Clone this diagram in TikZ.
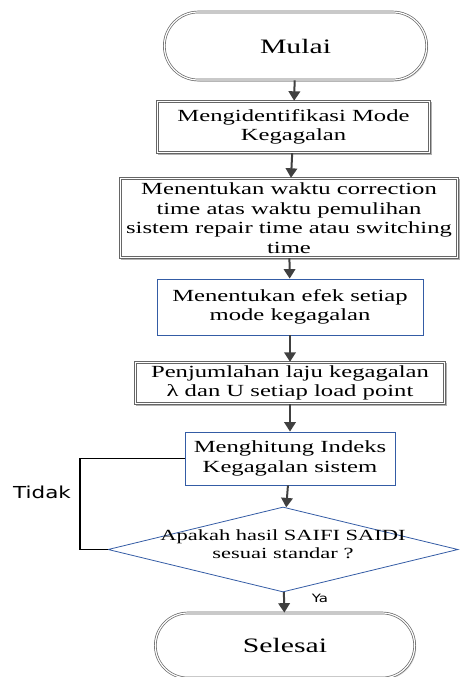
\documentclass[tikz,border=0pt]{standalone}
\usepackage{fontspec}
\setmainfont{Liberation Serif}[FakeStretch=1.45]
\newfontfamily\sansket{DejaVu Sans}[FakeStretch=1.3]
\usepackage{tikz}
\usetikzlibrary{arrows.meta,shapes,shadows,backgrounds}
\definecolor{biru}{RGB}{52,92,165}
\definecolor{abu}{RGB}{64,64,64}
\tikzstyle{terminal}=[rounded rectangle,draw=black!60,line width=0.7pt,double=white,double distance=1.2pt,fill=white,
    drop shadow={opacity=0.35,shadow xshift=1.5pt,shadow yshift=-1.5pt},font=\fontsize{20.5}{24}\selectfont]
\tikzstyle{proses}=[rectangle,fill=white,align=center,inner sep=2pt,font=\fontsize{17}{19.5}\selectfont]
\tikzstyle{bingkai}=[draw=black!60,line width=0.7pt]
\tikzstyle{bayang}=[fill=black!30]
\tikzstyle{prosesbiru}=[rectangle,draw=biru,line width=0.8pt,fill=white,align=center,inner sep=2pt,font=\fontsize{17}{19.5}\selectfont]
\tikzstyle{keputusan}=[diamond,draw=biru,line width=0.8pt,inner sep=0pt,font=\fontsize{15.5}{18}\selectfont]
\tikzstyle{panah}=[draw,abu,line width=2pt,-{Triangle[length=9.5pt,width=11.5pt]}]
\tikzstyle{garis}=[draw,black,line width=1.6pt]
\newcommand{\teksdatar}[1]{\makebox[0pt]{\smash{\begin{tabular}{@{}c@{}}#1\end{tabular}}}}

\begin{document}
\begin{tikzpicture}[x=1pt,y=-1pt]
    \useasboundingbox (0,0) rectangle (459,677);

    \node[terminal,minimum width=269,minimum height=68] (mulai) at (295.5,46) {Mulai};
    \node[proses,minimum width=273,minimum height=52] (identifikasi) at (293.5,127)
        {Mengidentifikasi Mode\\Kegagalan};
    \node[proses,minimum width=338,minimum height=80] (koreksi) at (289,218)
        {Menentukan waktu correction\\time atas waktu pemulihan\\sistem repair time atau switching\\time};
    \node[prosesbiru,minimum width=266,minimum height=56] (efek) at (290,307)
        {Menentukan efek setiap\\mode kegagalan};
    \node[proses,minimum width=310,minimum height=42] (laju) at (290,383)
        {Penjumlahan laju kegagalan\\λ dan U setiap load point};
    \node[prosesbiru,minimum width=210,minimum height=53] (indeks) at (290,458.5)
        {Menghitung Indeks\\Kegagalan sistem};
    \node[keputusan,minimum width=350,minimum height=85] (cek) at (283,549.5)
        {\teksdatar{Apakah hasil SAIFI SAIDI\\sesuai standar ?}};
    \node[terminal,minimum width=266,minimum height=65] (selesai) at (285,645.5) {Selesai};

    % bingkai ganda dan bayangan kotak abu-abu
    \foreach \n in {identifikasi,koreksi,laju} {
        \begin{pgfonlayer}{background}
            \path[bayang] ([shift={(1.6pt,-1.6pt)}]\n.north west) rectangle ([shift={(1.6pt,-1.6pt)}]\n.south east);
        \end{pgfonlayer}
        \path[bingkai] (\n.north west) rectangle (\n.south east);
        \path[bingkai] ([shift={(1.9pt,-1.9pt)}]\n.north west) rectangle ([shift={(-1.9pt,1.9pt)}]\n.south east);
    }

    \foreach \source/\dest in {mulai/identifikasi,identifikasi/koreksi,koreksi/efek,
    efek/laju,laju/indeks,indeks/cek,cek/selesai}
        \path[panah] (\source) -- (\dest);

    % kembali jika tidak sesuai
    \coordinate (belok) at (80,549.5);
    \path[garis] (cek.west) -- (belok) |- (indeks.west);
    \node[font=\sansket\fontsize{16.5}{18}\selectfont] (tidak) at (42,492) {Tidak};
    \node[font=\sansket\fontsize{11.5}{13}\selectfont] (ya) at (320,598) {Ya};
\end{tikzpicture}
\end{document}
